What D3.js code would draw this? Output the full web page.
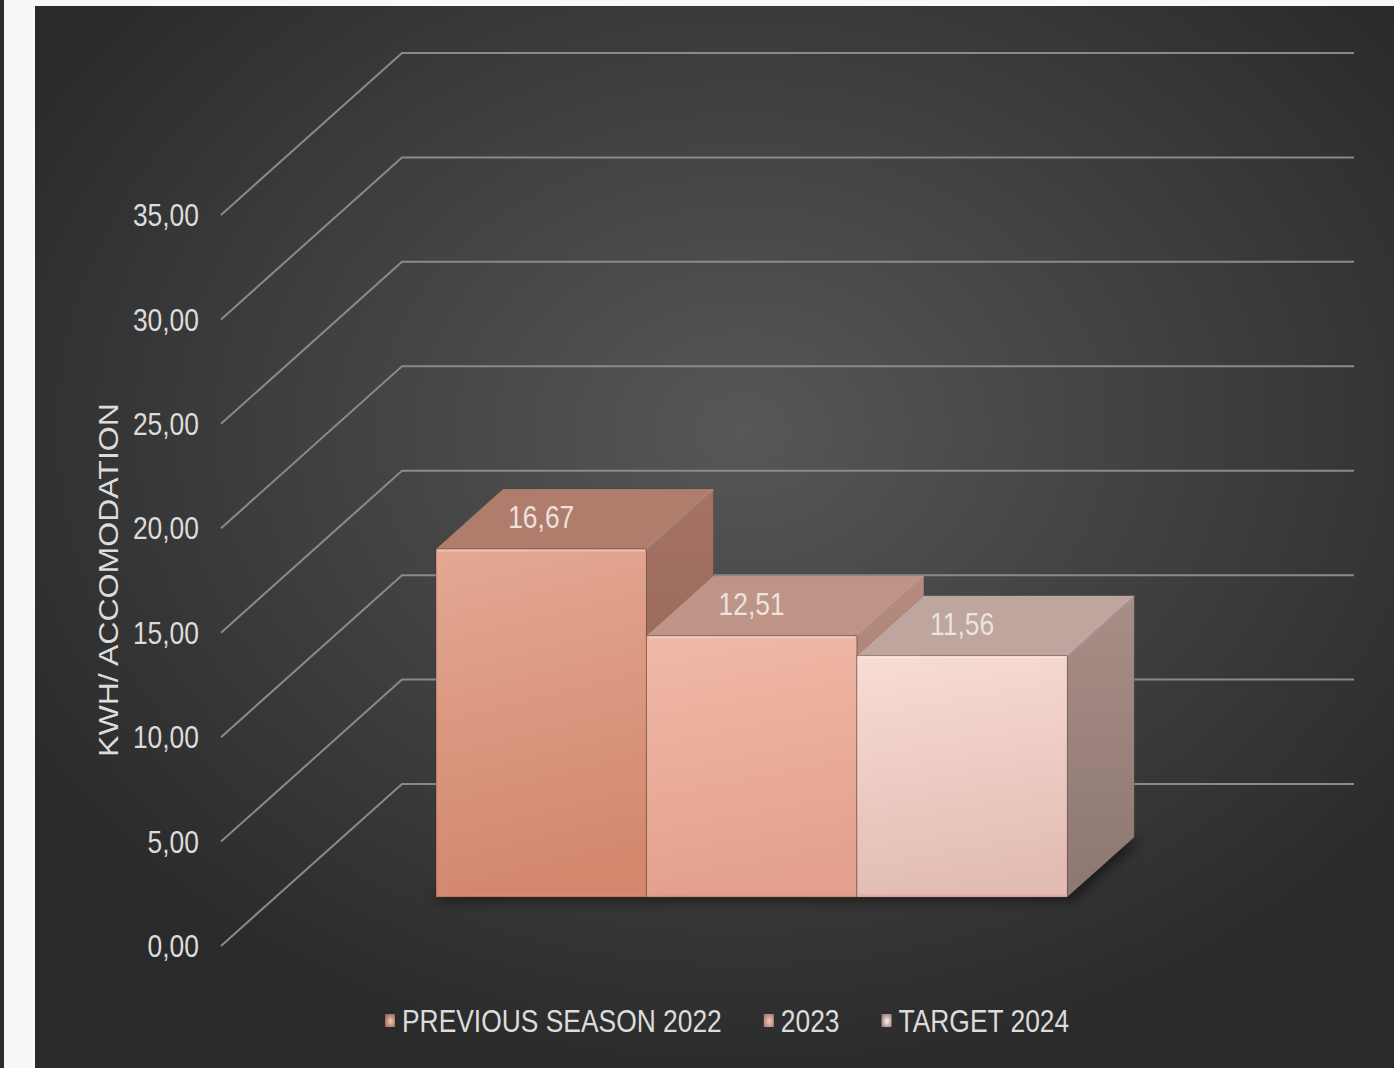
<!DOCTYPE html>
<html>
<head>
<meta charset="utf-8">
<script src="https://cdn.jsdelivr.net/npm/d3@7"></script>
<style>
  html, body { margin: 0; padding: 0; background: #f8f8f8; }
  svg { display: block; }
</style>
</head>
<body>
<svg id="chart" width="1394" height="1068"></svg>
<script>
// ---- data ----
const categories = [""];
const series = ["PREVIOUS SEASON 2022", "2023", "TARGET 2024"];
const values = [16.67, 12.51, 11.56];
const valueLabels = ["16,67", "12,51", "11,56"];
const yTicks = [0, 5, 10, 15, 20, 25, 30, 35];
const yTickLabels = ["0,00", "5,00", "10,00", "15,00", "20,00", "25,00", "30,00", "35,00"];
const axisTitle = "KWH/ ACCOMODATION";

// ---- styling ----
const FONT = "'Liberation Sans',Arial,sans-serif";
const NARROW = 0.825;           // horizontal squeeze for a narrow sans look
const TEXT = "#dcdcdc";
const frontColors = [["#e3a893", "#d3886e"], ["#f0b9a6", "#e3a18d"], ["#f8dcd4", "#e3bdb3"]];
const topColors = ["#b07c6c", "#be9486", "#bea69e"];
const sideColors = [["#a47363", "#8d5e51"], ["#b58b7d", "#9f786b"], ["#a78f88", "#8e7770"]];

// squeeze a text element horizontally around its own x anchor
function condense(sel) {
  sel.each(function () {
    const x = +this.getAttribute("x");
    d3.select(this).attr("transform", `translate(${x},0) scale(${NARROW},1) translate(${-x},0)`);
  });
  return sel;
}

const svg = d3.select("#chart");
const defs = svg.append("defs");

// chart panel
const panel = { x: 35, y: 6, w: 1359, h: 1062 };
const bg = defs.append("radialGradient").attr("id", "bg")
  .attr("cx", "52%").attr("cy", "40%").attr("r", "62%");
bg.append("stop").attr("offset", "0%").attr("stop-color", "#575757");
bg.append("stop").attr("offset", "100%").attr("stop-color", "#2a2a2a");

svg.append("rect").attr("x", 0).attr("y", 0).attr("width", 4).attr("height", 1068).attr("fill", "#2c2c2c");
svg.append("rect").attr("x", panel.x).attr("y", panel.y).attr("width", panel.w).attr("height", panel.h).attr("fill", "url(#bg)");

// ---- 3D oblique projection ----
const ORIGIN = { x: 221, y: 946 };   // front-left corner of the floor at value 0
const DEPTH = { dx: 181, dy: 162 };  // offset from front edge to back wall
const FLOOR_W = 952;
const Z_FRONT = 0.302, Z_BACK = 0.672;

const y = d3.scaleLinear().domain([0, 35]).range([0, 731]);
const xCat = d3.scaleBand().domain(categories).range([0, FLOOR_W]).paddingInner(0).paddingOuter(0.254);
const xSer = d3.scaleBand().domain(series).range([0, xCat.bandwidth()]).padding(0);

const proj = (x, z, v) => [ORIGIN.x + x + z * DEPTH.dx, ORIGIN.y - z * DEPTH.dy - y(v)];
const pts = arr => arr.map(p => p.join(",")).join(" ");

// ---- gridlines: side diagonal + back wall ----
const grid = svg.append("g");
yTicks.forEach((t, i) => {
  const a = proj(0, 0, t), b = proj(0, 1, t), c = proj(FLOOR_W, 1, t);
  grid.append("polyline").attr("points", pts([a, b, c]))
    .attr("fill", "none").attr("stroke", "#8a8a8a").attr("stroke-width", 2);
  grid.append("text").attr("x", a[0] - 22).attr("y", a[1]).attr("dy", "0.35em")
    .attr("text-anchor", "end").attr("font-family", FONT).attr("font-size", 32)
    .attr("fill", TEXT).text(yTickLabels[i]).call(condense);
});

// axis title (stretched along its length to span the axis)
const title = svg.append("text")
  .attr("text-anchor", "middle").attr("font-family", FONT).attr("font-size", 28)
  .attr("fill", TEXT).text(axisTitle);
const titleScale = 354 / title.node().getComputedTextLength();
title.attr("transform", `translate(118,580) rotate(-90) scale(${titleScale},1)`);

// ---- bar shadows ----
const blur = defs.append("filter").attr("id", "shadow").attr("x", "-20%").attr("y", "-40%").attr("width", "140%").attr("height", "180%");
blur.append("feGaussianBlur").attr("stdDeviation", 6);
const cat = categories[0];
const x0 = xCat(cat);
const xStart = x0 + xSer(series[0]);
const xEnd = x0 + xSer(series[series.length - 1]) + xSer.bandwidth();
svg.append("polygon")
  .attr("points", pts([proj(xStart - 4, Z_FRONT, 0), proj(xEnd + 6, Z_FRONT, 0), proj(xEnd + 6, Z_BACK, 0), proj(xStart - 4, Z_BACK, 0)]))
  .attr("transform", "translate(0,4)")
  .attr("fill", "#000").attr("opacity", 0.45).attr("filter", "url(#shadow)");

// ---- gradients for bar faces and legend markers ----
series.forEach((s, i) => {
  const fg = defs.append("linearGradient").attr("id", "front" + i).attr("x1", 0).attr("y1", 0).attr("x2", 0.15).attr("y2", 1);
  fg.append("stop").attr("offset", "0%").attr("stop-color", frontColors[i][0]);
  fg.append("stop").attr("offset", "100%").attr("stop-color", frontColors[i][1]);
  const sg = defs.append("linearGradient").attr("id", "side" + i).attr("x1", 0).attr("y1", 0).attr("x2", 0).attr("y2", 1);
  sg.append("stop").attr("offset", "0%").attr("stop-color", sideColors[i][0]);
  sg.append("stop").attr("offset", "100%").attr("stop-color", sideColors[i][1]);
  const mg = defs.append("radialGradient").attr("id", "marker" + i).attr("cx", "55%").attr("cy", "55%").attr("r", "70%");
  mg.append("stop").attr("offset", "0%").attr("stop-color", i === 2 ? "#fdf0ec" : "#f6c9b8");
  mg.append("stop").attr("offset", "100%").attr("stop-color", sideColors[i][1]);
});

// ---- bars (drawn left to right so later bars hide earlier side faces) ----
const bars = svg.append("g");
series.forEach((s, i) => {
  const v = values[i];
  const xl = x0 + xSer(s), xr = xl + xSer.bandwidth();
  const g = bars.append("g");
  // side face
  g.append("polygon")
    .attr("points", pts([proj(xr, Z_FRONT, 0), proj(xr, Z_BACK, 0), proj(xr, Z_BACK, v), proj(xr, Z_FRONT, v)]))
    .attr("fill", `url(#side${i})`).attr("stroke", "rgba(0,0,0,0.15)").attr("stroke-width", 0.8);
  // top face
  g.append("polygon")
    .attr("points", pts([proj(xl, Z_FRONT, v), proj(xr, Z_FRONT, v), proj(xr, Z_BACK, v), proj(xl, Z_BACK, v)]))
    .attr("fill", topColors[i]).attr("stroke", "rgba(0,0,0,0.1)").attr("stroke-width", 0.8);
  // front face
  const fl = proj(xl, Z_FRONT, v), fr = proj(xr, Z_FRONT, 0);
  g.append("rect")
    .attr("x", fl[0]).attr("y", fl[1]).attr("width", fr[0] - fl[0]).attr("height", fr[1] - fl[1])
    .attr("fill", `url(#front${i})`).attr("stroke", "rgba(60,30,20,0.35)").attr("stroke-width", 1);
  // soft bevel highlights
  g.append("line")
    .attr("x1", fl[0] + 2).attr("y1", fl[1] + 1.5).attr("x2", fr[0] - 2).attr("y2", fl[1] + 1.5)
    .attr("stroke", "rgba(255,255,255,0.3)").attr("stroke-width", 2);
  g.append("line")
    .attr("x1", fl[0] + 2).attr("y1", fr[1] - 2).attr("x2", fr[0] - 2).attr("y2", fr[1] - 2)
    .attr("stroke", "rgba(230,140,130,0.3)").attr("stroke-width", 2);
  const tr = proj(xr, Z_FRONT, v), br = proj(xr, Z_BACK, v);
  g.append("line")
    .attr("x1", tr[0]).attr("y1", tr[1]).attr("x2", br[0]).attr("y2", br[1])
    .attr("stroke", "rgba(255,255,255,0.15)").attr("stroke-width", 2);
});

// ---- value labels on the top faces ----
series.forEach((s, i) => {
  const v = values[i];
  const cx = x0 + xSer(s) + xSer.bandwidth() / 2;
  const front = proj(cx, Z_FRONT, v);
  const mid = proj(cx, (Z_FRONT + Z_BACK) / 2, v);
  svg.append("text")
    .attr("x", front[0]).attr("y", mid[1] - 2).attr("dy", "0.35em")
    .attr("text-anchor", "middle").attr("font-family", FONT).attr("font-size", 32)
    .attr("fill", "#ebe3df").text(valueLabels[i]).call(condense);
});

// ---- legend ----
const legend = svg.append("g");
let lx = 385;
const ly = 1021;
series.forEach((s, i) => {
  legend.append("rect").attr("x", lx).attr("y", ly - 7).attr("width", 10).attr("height", 13)
    .attr("fill", `url(#marker${i})`);
  const t = legend.append("text").attr("x", lx + 17).attr("y", ly).attr("dy", "0.35em")
    .attr("font-family", FONT).attr("font-size", 32).attr("fill", TEXT).text(s).call(condense);
  lx += 17 + t.node().getComputedTextLength() * NARROW + 42;
});
</script>
</body>
</html>
